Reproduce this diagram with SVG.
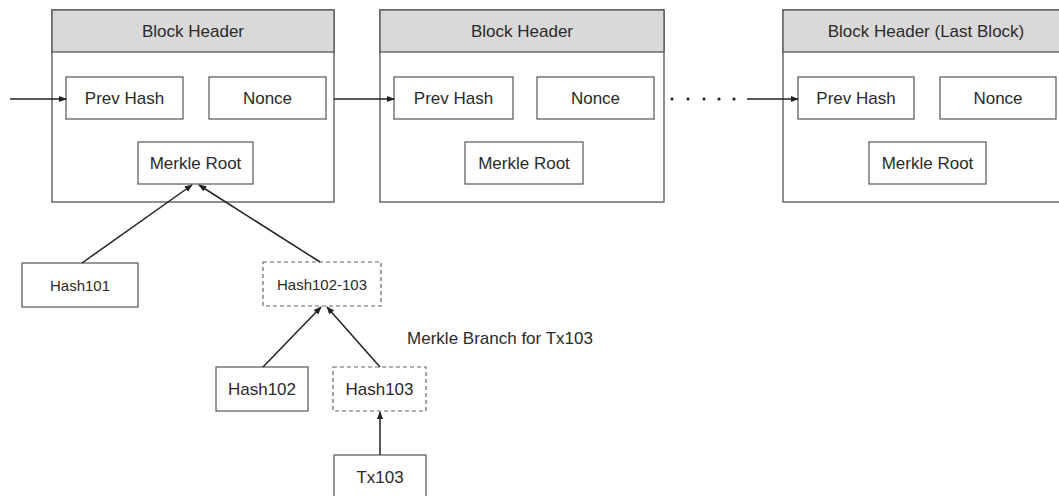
<svg xmlns="http://www.w3.org/2000/svg" width="1059" height="496" viewBox="0 0 1059 496">
  <style>
    .blk { fill: #ffffff; stroke: #555555; stroke-width: 1.3; }
    .hdr { fill: #d9d9d9; stroke: #555555; stroke-width: 1.3; }
    .box { fill: #ffffff; stroke: #555555; stroke-width: 1.2; }
    .dash { fill: #ffffff; stroke: #666666; stroke-width: 1.2; stroke-dasharray: 4 3; }
    .t { font-family: "Liberation Sans", Arial, sans-serif; font-size: 17px; fill: #2a2a2a; text-anchor: middle; dominant-baseline: central; }
    .ts { font-size: 15px; }
    .edge { stroke: #222222; stroke-width: 1.5; fill: none; marker-end: url(#arr); }
    .dot { fill: #222222; }
  </style>
  <defs>
    <marker id="arr" viewBox="0 0 10 10" refX="9" refY="5" markerWidth="8" markerHeight="8" markerUnits="userSpaceOnUse" orient="auto">
      <path d="M0,1 L10,5 L0,9 z" fill="#222222"/>
    </marker>
  </defs>
  <rect width="1059" height="496" fill="#ffffff"/>

  <!-- Block 1 -->
  <g id="block1">
    <rect class="blk" x="52" y="10" width="282" height="192"/>
    <rect class="hdr" x="52" y="10" width="282" height="42"/>
    <text class="t" x="193" y="31">Block Header</text>
    <rect class="box" x="66" y="77" width="117" height="42"/>
    <text class="t" x="124.5" y="98">Prev Hash</text>
    <rect class="box" x="209" y="77" width="117" height="42"/>
    <text class="t" x="267.5" y="98">Nonce</text>
    <rect class="box" x="138" y="142" width="115" height="42"/>
    <text class="t" x="195.5" y="163">Merkle Root</text>
  </g>

  <!-- Block 2 -->
  <g id="block2">
    <rect class="blk" x="380" y="10" width="284" height="192"/>
    <rect class="hdr" x="380" y="10" width="284" height="42"/>
    <text class="t" x="522" y="31">Block Header</text>
    <rect class="box" x="394" y="77" width="119" height="42"/>
    <text class="t" x="453.5" y="98">Prev Hash</text>
    <rect class="box" x="537" y="77" width="117" height="42"/>
    <text class="t" x="595.5" y="98">Nonce</text>
    <rect class="box" x="465" y="142" width="118" height="42"/>
    <text class="t" x="524" y="163">Merkle Root</text>
  </g>

  <!-- Last block (runs past the right edge) -->
  <g id="block3">
    <rect class="blk" x="783" y="10" width="284" height="192"/>
    <rect class="hdr" x="783" y="10" width="284" height="42"/>
    <text class="t" x="926" y="31">Block Header (Last Block)</text>
    <rect class="box" x="798" y="77" width="116" height="42"/>
    <text class="t" x="856" y="98">Prev Hash</text>
    <rect class="box" x="940" y="77" width="116" height="42"/>
    <text class="t" x="998" y="98">Nonce</text>
    <rect class="box" x="869" y="142" width="117" height="42"/>
    <text class="t" x="927.5" y="163">Merkle Root</text>
  </g>

  <!-- Merkle tree nodes -->
  <g id="hash101">
    <rect class="box" x="22" y="263" width="116" height="44"/>
    <text class="t ts" x="80" y="285">Hash101</text>
  </g>
  <g id="hash102-103">
    <rect class="dash" x="263" y="262" width="118" height="44"/>
    <text class="t ts" x="322" y="284">Hash102-103</text>
  </g>
  <g id="hash102">
    <rect class="box" x="216" y="367" width="92" height="44"/>
    <text class="t" x="262" y="389">Hash102</text>
  </g>
  <g id="hash103">
    <rect class="dash" x="333" y="367" width="93" height="44"/>
    <text class="t" x="379.5" y="389">Hash103</text>
  </g>
  <g id="tx103">
    <rect class="box" x="334" y="455" width="92" height="50"/>
    <text class="t" x="380" y="477">Tx103</text>
  </g>
  <g id="branch-label">
    <text class="t" x="500" y="338">Merkle Branch for Tx103</text>
  </g>

  <!-- Connectors -->
  <g id="connectors">
    <line class="edge" x1="10" y1="99" x2="66" y2="99"/>
    <line class="edge" x1="334" y1="99" x2="394" y2="99"/>
    <circle class="dot" cx="672" cy="99" r="1.6"/>
    <circle class="dot" cx="688" cy="99" r="1.6"/>
    <circle class="dot" cx="704" cy="99" r="1.6"/>
    <circle class="dot" cx="719" cy="99" r="1.6"/>
    <circle class="dot" cx="734" cy="99" r="1.6"/>
    <line class="edge" x1="747" y1="99" x2="798" y2="99"/>
    <line class="edge" x1="82" y1="263" x2="192" y2="185"/>
    <line class="edge" x1="320" y1="262" x2="199" y2="185"/>
    <line class="edge" x1="263" y1="367" x2="321" y2="307"/>
    <line class="edge" x1="380" y1="367" x2="327" y2="307"/>
    <line class="edge" x1="380" y1="455" x2="380" y2="412"/>
  </g>
</svg>
